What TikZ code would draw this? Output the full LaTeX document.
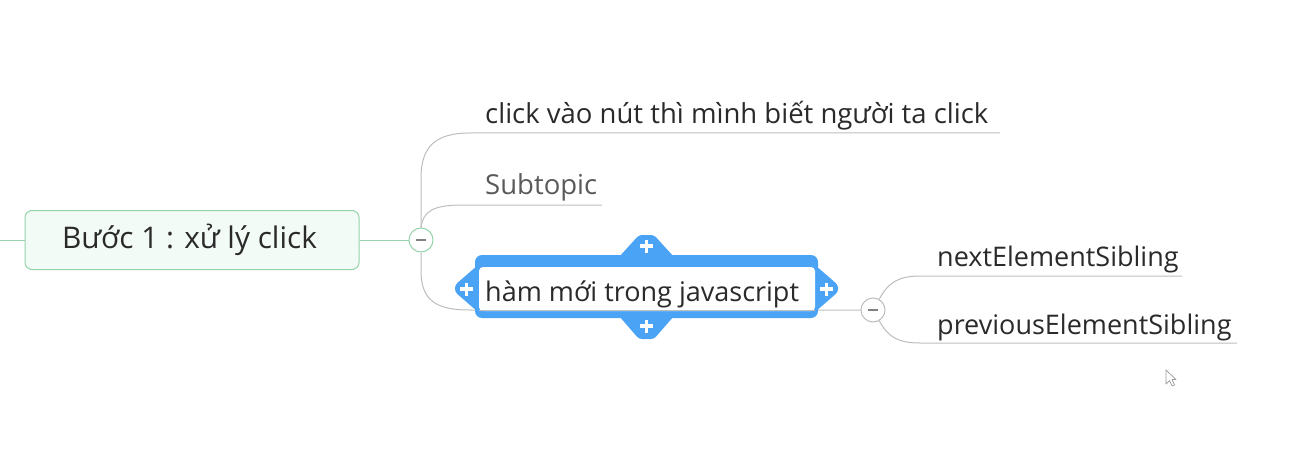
\documentclass[tikz,border=0pt]{standalone}
\usepackage{fontspec}
\setmainfont{Open Sans}
\definecolor{grn}{HTML}{94D3AC}
\definecolor{grnfill}{HTML}{F3FBF6}
\definecolor{gry}{HTML}{BDBDBD}
\definecolor{blu}{HTML}{4BA3F5}
\definecolor{txt}{HTML}{2A2A2A}
\definecolor{subt}{HTML}{5A5A5A}
\tikzset{
  mainbox/.style={draw=grn, fill=grnfill, line width=1pt, rounded corners=7pt, minimum width=334pt, minimum height=59pt, inner sep=0pt, text=txt, font=\fontsize{29.8}{34}\selectfont},
  lbl/.style={anchor=base west, inner sep=0pt, text=txt, font=\fontsize{27}{31}\selectfont},
  collapser/.style={circle, draw=#1, fill=white, line width=1pt, minimum size=24pt, inner sep=0pt},
  conn/.style={draw=gry, line width=1pt},
  gconn/.style={draw=grn, line width=1pt},
  plus/.style={draw=white, line width=3.4pt},
}
\begin{document}
\begin{tikzpicture}[x=1pt,y=-1pt]
\useasboundingbox (0,0) rectangle (1315,476);
% nodes
\node[mainbox] (main) at (192,240) {\hspace*{-5pt}Bước 1 : xử lý click};
\coordinate (lstart) at (0,240);
\node[collapser=grn] (c1) at (421,240) {};
\node[lbl, font=\fontsize{27.5}{31}\selectfont] (t1) at (485,124) {click vào nút thì mình biết người ta click};
\node[lbl, text=subt, font=\fontsize{27.5}{31}\selectfont] (t2) at (485,194) {Subtopic};
\node[collapser=gry] (c2) at (873,310) {};
\node[lbl] (t4) at (937,266) {nextElementSibling};
\node[lbl] (t5) at (937,334) {previousElementSibling};
\coordinate (e1) at (1000,133);
\coordinate (e2) at (602,205);
\coordinate (e4) at (1182,276);
\coordinate (e5) at (1237,343);
% green connectors
\draw[gconn] (lstart) -- (main.west);
\draw[gconn] (main.east) -- (c1.west);
% gray connectors
\draw[conn] (c1.north) -- (421,178) .. controls (421,146) and (436,133) .. (470,133) -- (e1);
\draw[conn] (c1.north) .. controls (423,212) and (432,205) .. (462,205) -- (e2);
\draw[conn] (c1.south) -- (421,270) .. controls (421,300) and (435,310) .. (470,310) -- (c2.west);
\draw[conn] (c2.60) .. controls (888,283) and (898,276) .. (920,276) -- (e4);
\draw[conn] (c2.-60) .. controls (888,337) and (898,343) .. (920,343) -- (e5);
% selected topic (blue frame)
\fill[blu, rounded corners=3pt] (619,257) -- (639,235) -- (654,235) -- (674,257) -- cycle;
\fill[blu, rounded corners=3pt] (619,316) -- (639,339) -- (654,339) -- (674,316) -- cycle;
\fill[blu, rounded corners=3pt] (478,265) -- (455,285) -- (455,292) -- (478,312) -- cycle;
\fill[blu, rounded corners=3pt] (815,265) -- (838,285) -- (838,292) -- (815,312) -- cycle;
\fill[blu, rounded corners=7pt] (475,255) rectangle (818,318);
\fill[white, rounded corners=4pt] (479,267) rectangle (815,311);
\draw[conn] (479,310) -- (815,310);
\node[lbl] (t3) at (485,301) {hàm mới trong javascript};
% plus signs
\draw[plus] (640,246) -- (653,246) (646.5,239.5) -- (646.5,252.5);
\draw[plus] (640,326) -- (653,326) (646.5,319.5) -- (646.5,332.5);
\draw[plus] (460,289) -- (473,289) (466.5,282.5) -- (466.5,295.5);
\draw[plus] (820,289) -- (833,289) (826.5,282.5) -- (826.5,295.5);
% minus signs in collapsers
\draw[line width=1.8pt, draw=gray] ([xshift=-5pt]c1.center) -- ([xshift=5pt]c1.center);
\draw[line width=1.8pt, draw=gray] ([xshift=-5pt]c2.center) -- ([xshift=5pt]c2.center);
% mouse pointer
\draw[draw=gray!80, fill=white, line width=0.7pt, line join=round] (1166,370) -- (1166,384) -- (1169.5,380.5) -- (1172,386) -- (1174.5,385) -- (1172,379.5) -- (1176,379.5) -- cycle;
\end{tikzpicture}
\end{document}
